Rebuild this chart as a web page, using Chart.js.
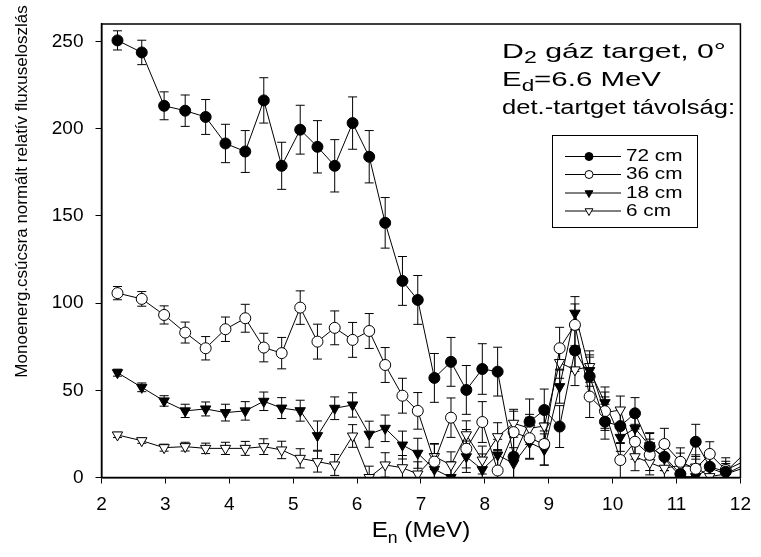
<!DOCTYPE html>
<html>
<head>
<meta charset="utf-8">
<script src="https://cdn.jsdelivr.net/npm/chart.js@4.4.0/dist/chart.umd.min.js"></script>
<style>
  body { margin: 0; background: #fff; }
  canvas { display: block; }
</style>
</head>
<body>
<canvas id="chart" width="761" height="557" style="width:761px;height:557px"></canvas>
<script>
// neutron energy bins (MeV), shared by all four distances
const energy = [2.25, 2.63, 2.98, 3.31, 3.63, 3.94, 4.25, 4.54, 4.82, 5.11, 5.38, 5.65, 5.93, 6.19,
  6.44, 6.71, 6.95, 7.21, 7.47, 7.71, 7.96, 8.20, 8.45, 8.70, 8.93, 9.17, 9.41, 9.64, 9.88,
  10.12, 10.35, 10.58, 10.81, 11.06, 11.30, 11.52, 11.77, 12.10];

const flux72 = [250.6, 243.7, 213.1, 210.3, 206.7, 191.5, 186.9, 216.2, 178.7, 199.4, 189.6, 178.7, 203.2, 183.9,
  146.0, 112.7, 101.8, 57.1, 66.3, 50.2, 62.2, 60.7, 11.9, 32.0, 38.7, 29.2, 72.8, 58.0, 32.0,
  29.5, 36.8, 17.7, 11.9, 2.0, 20.5, 6.2, 3.3, 15];
const err72 = [5.5, 7, 8, 9, 10, 11, 12, 13, 13.5, 14, 15, 15, 15, 15,
  14.5, 14, 14, 14, 14, 14, 14.5, 14, 13, 13, 12, 12, 12, 11, 10,
  10, 9, 8, 8, 7, 10, 7, 6, 6];

const flux36 = [105.7, 102.4, 93.2, 83.1, 74.1, 85.0, 91.3, 74.5, 71.3, 97.4, 77.9, 85.8, 78.9, 84.0,
  64.5, 46.9, 38.2, 9.1, 34.3, 16.5, 31.8, 4.0, 26.0, 22.5, 19.2, 74.1, 87.5, 46.4, 38.0,
  10.0, 20.5, 13.0, 19.2, 9.0, 5.0, 13.5, 4.3, 10];
const err36 = [3.8, 4.2, 5.2, 6, 6.7, 7, 8, 8.2, 9, 9.6, 10, 9.7, 10, 10,
  10, 10, 10.5, 10, 11.3, 11, 11.7, 12, 12, 12, 12, 12, 12, 12, 11,
  10, 10, 9, 9, 8, 8, 7, 7, 7];

const flux18 = [60.1, 51.7, 43.9, 38.2, 39.3, 37.2, 38.2, 43.7, 39.8, 38.3, 24.0, 39.7, 41.6, 24.8,
  28.2, 18.6, 13.9, 4.7, 0.0, 11.9, 4.5, 12.9, 8.1, 20.0, 16.0, 52.1, 94.2, 61.3, 42.9,
  23.0, 28.2, 18.2, 11.0, 0.5, 0.5, 5.5, 2.0, 8];
const err18 = [2, 2.5, 3, 3.8, 4, 4.8, 5.3, 5.3, 6, 6, 8.4, 6.5, 7, 7.5,
  7.6, 8, 8.6, 9, 9, 9, 9, 9, 9, 9, 9, 9.5, 9.5, 9, 9,
  8, 8, 7, 7, 6, 6, 6, 5, 5];

const flux6 = [24.4, 21.1, 17.1, 17.7, 16.7, 16.7, 16.7, 17.7, 15.8, 11.0, 9.1, 7.2, 23.8, 0.0,
  7.2, 5.6, 2.0, 12.0, 7.2, 24.5, 10.0, 23.4, 31.1, 28.2, 29.5, 65.9, 61.7, 63.6, 37.2,
  38.7, 11.9, 8.5, 5.3, 7.0, 6.0, 0.5, 2.0, 6];
const err6 = [1.5, 1.5, 2, 2.5, 3, 3.5, 4, 4.5, 5, 5.5, 6, 6, 6.5, 6.5,
  7, 7, 7, 7.5, 7.5, 8, 8, 8, 8, 8, 8, 9, 9, 9, 9,
  8, 8, 7, 7, 7, 6, 6, 6, 6];

const seriesLabels = ["72 cm", "36 cm", "18 cm", "6 cm"];
const xTicks = [2, 3, 4, 5, 6, 7, 8, 9, 10, 11, 12];
const yTicks = [0, 50, 100, 150, 200, 250];

const FONT = '"Liberation Sans", Arial, sans-serif';

const styles = [
  { pointStyle: "circle", pointRadius: 5.5, pointRotation: 0, fill: "#000" },
  { pointStyle: "circle", pointRadius: 5.5, pointRotation: 0, fill: "#fff" },
  { pointStyle: "triangle", pointRadius: 6, pointRotation: 180, fill: "#000" },
  { pointStyle: "triangle", pointRadius: 6, pointRotation: 180, fill: "#fff" },
];
const values = [flux72, flux36, flux18, flux6];
const errors = [err72, err36, err18, err6];

const datasets = values.map((vals, k) => ({
  label: seriesLabels[k],
  data: energy.map((x, i) => ({ x: x, y: vals[i] })),
  errors: errors[k],
  showLine: true,
  borderColor: "#000",
  borderWidth: 1,
  pointStyle: styles[k].pointStyle,
  pointRadius: styles[k].pointRadius,
  pointRotation: styles[k].pointRotation,
  pointBackgroundColor: styles[k].fill,
  pointBorderColor: "#000",
  pointBorderWidth: 1,
}));

// vertical error bars with caps, behind the markers
const errorBars = {
  id: "errorBars",
  beforeDatasetsDraw(chart) {
    const { ctx, chartArea, scales } = chart;
    ctx.save();
    ctx.beginPath();
    ctx.rect(chartArea.left, chartArea.top, chartArea.right - chartArea.left, chartArea.bottom - chartArea.top);
    ctx.clip();
    ctx.strokeStyle = "#000";
    ctx.lineWidth = 1;
    chart.data.datasets.forEach(ds => {
      ds.data.forEach((p, i) => {
        const e = ds.errors[i];
        const x = scales.x.getPixelForValue(p.x);
        const yt = scales.y.getPixelForValue(p.y + e);
        const yb = scales.y.getPixelForValue(p.y - e);
        ctx.beginPath();
        ctx.moveTo(x, yt); ctx.lineTo(x, yb);
        ctx.moveTo(x - 4.5, yt); ctx.lineTo(x + 4.5, yt);
        ctx.moveTo(x - 4.5, yb); ctx.lineTo(x + 4.5, yb);
        ctx.stroke();
      });
    });
    ctx.restore();
  }
};

function textWidth(ctx, parts) {
  let w = 0;
  parts.forEach(([t, size]) => { ctx.font = size + "px " + FONT; w += ctx.measureText(t).width; });
  return w;
}

// parts: [text, size, dy]; sx stretches the text horizontally
function stretchedText(ctx, parts, x, y, sx) {
  ctx.save();
  ctx.translate(x, y);
  ctx.scale(sx, 1);
  let cx = 0;
  parts.forEach(([t, size, dy]) => {
    ctx.font = size + "px " + FONT;
    ctx.fillText(t, cx, dy);
    cx += ctx.measureText(t).width;
  });
  ctx.restore();
}

function fitText(ctx, parts, x, y, width) {
  stretchedText(ctx, parts, x, y, width / textWidth(ctx, parts));
}

// frame, annotation, legend box and axis titles
const decorations = {
  id: "decorations",
  afterDraw(chart) {
    const { ctx, chartArea } = chart;
    ctx.save();
    ctx.strokeStyle = "#000";
    ctx.lineWidth = 1.5;
    ctx.strokeRect(chartArea.left, chartArea.top, chartArea.right - chartArea.left, chartArea.bottom - chartArea.top);

    ctx.fillStyle = "#000";
    ctx.textBaseline = "alphabetic";
    ctx.textAlign = "left";
    fitText(ctx, [["D", 21, 0], ["2", 16, 5], [" gáz target, 0°", 21, 0]], 502, 57.5, 224);
    fitText(ctx, [["E", 21, 0], ["d", 16, 5], ["=6.6 MeV", 21, 0]], 502, 86, 159);
    fitText(ctx, [["det.-tartget távolság:", 21, 0]], 502, 113.5, 233);

    // legend box
    ctx.lineWidth = 1;
    ctx.strokeRect(552.5, 135.5, 145, 92);
    const rows = [156.5, 174.5, 193, 211];
    chart.data.datasets.forEach((ds, k) => {
      const y = rows[k];
      ctx.beginPath();
      ctx.moveTo(565, y); ctx.lineTo(621, y);
      ctx.strokeStyle = "#000";
      ctx.lineWidth = 1;
      ctx.stroke();
      ctx.fillStyle = ds.pointBackgroundColor;
      ctx.strokeStyle = "#000";
      Chart.helpers.drawPoint(ctx, {
        pointStyle: ds.pointStyle,
        radius: ds.pointStyle === "circle" ? 4 : 4.5,
        rotation: ds.pointRotation,
        borderWidth: 1,
      }, 589, y);
      ctx.fillStyle = "#000";
      ctx.textBaseline = "middle";
      stretchedText(ctx, [[ds.label, 17, 0]], 626, y, 1.22);
      ctx.textBaseline = "alphabetic";
    });

    // x axis title with subscript
    const xParts = [["E", 22, 0], ["n", 16, 6], [" (MeV)", 22, 0]];
    const cx = (chartArea.left + chartArea.right) / 2;
    const w = textWidth(ctx, xParts) * 1.1;
    stretchedText(ctx, xParts, cx - w / 2, 537, 1.1);

    // y axis title
    ctx.translate(22, 191.5);
    ctx.rotate(-Math.PI / 2);
    ctx.font = "17px " + FONT;
    ctx.textAlign = "center";
    ctx.textBaseline = "middle";
    ctx.fillText("Monoenerg.csúcsra normált relatív fluxuseloszlás", 0, 0);
    ctx.restore();
  }
};

const tickFont = { family: FONT, size: 19 };

new Chart(document.getElementById("chart"), {
  type: "scatter",
  data: { datasets: datasets },
  options: {
    responsive: false,
    animation: false,
    layout: { padding: { top: 24, right: 12, left: 0, bottom: 0 } },
    plugins: {
      legend: { display: false },
      tooltip: { enabled: false },
    },
    scales: {
      x: {
        type: "linear",
        min: 2,
        max: 12,
        afterBuildTicks(scale) { scale.ticks = xTicks.map(v => ({ value: v })); },
        ticks: { font: tickFont, color: "#000", padding: 10, maxRotation: 0 },
        grid: { drawOnChartArea: false, tickLength: 6, color: "#000" },
        border: { color: "#000", width: 1.5 },
        afterFit(scale) { scale.height = 79.5; },
      },
      y: {
        min: 0,
        max: 260,
        afterBuildTicks(scale) { scale.ticks = yTicks.map(v => ({ value: v })); },
        ticks: { font: tickFont, color: "#000", padding: 12 },
        grid: { drawOnChartArea: false, tickLength: 6, color: "#000" },
        border: { color: "#000", width: 1.5 },
        afterFit(scale) { scale.width = 101.5; },
      },
    },
  },
  plugins: [errorBars, decorations],
});
</script>
</body>
</html>
